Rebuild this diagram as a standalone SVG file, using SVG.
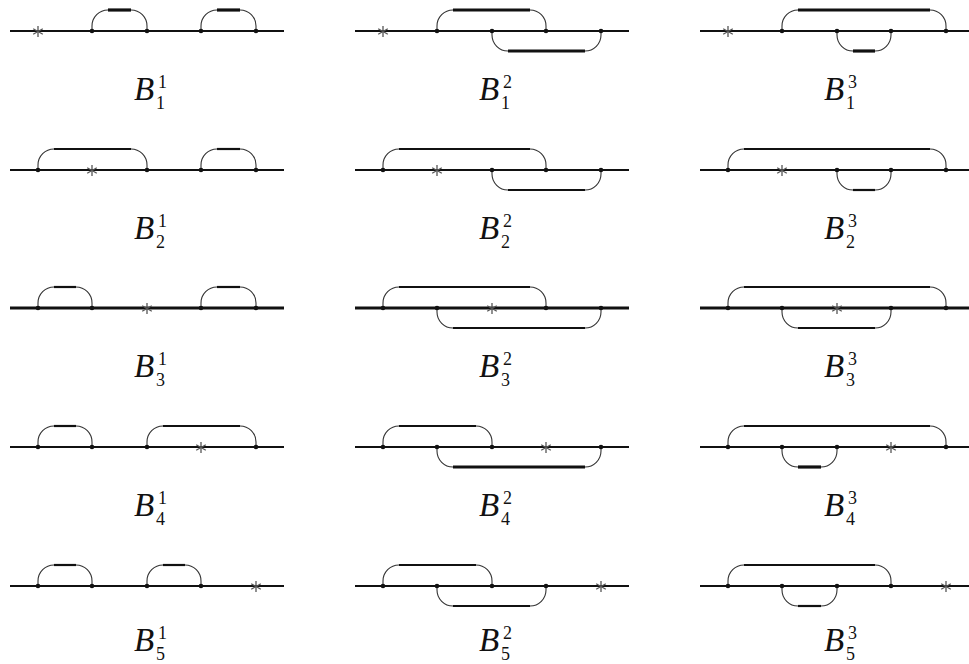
<svg xmlns="http://www.w3.org/2000/svg" xmlns:xlink="http://www.w3.org/1999/xlink" width="969" height="664" viewBox="0 0 969 664">
<style>
.base{stroke:#111;stroke-width:2.2;fill:none}
.arc{stroke:#333;stroke-width:1.1;fill:none}
.flat{stroke:#111;stroke-width:2.2;fill:none}
.thick{stroke-width:3.2}
.dot{fill:#111}
.ast{stroke:#555;stroke-width:1.3}
.B{font-family:"Liberation Serif",serif;font-style:italic;font-size:33px;fill:#111}
.idx{font-family:"Liberation Serif",serif;font-size:18px;fill:#111}
</style>
<defs>
<g id="star" class="ast"><line x1="0" y1="-5.5" x2="0" y2="5.5"/><line x1="-4.8" y1="-2.75" x2="4.8" y2="2.75"/><line x1="-4.8" y1="2.75" x2="4.8" y2="-2.75"/></g>
</defs>
<rect width="969" height="664" fill="#fff"/>

<!-- Row 1 -->
<g id="B1-1" transform="translate(0,31)">
<line class="base" x1="10" y1="0" x2="284" y2="0"/>
<g class="connectors">
<path class="arc" d="M92 0V-5A16 16 0 0 1 108 -21H131A16 16 0 0 1 147 -5V0"/><path class="flat thick" d="M108 -21H131"/>
<path class="arc" d="M201 0V-5A16 16 0 0 1 217 -21H240A16 16 0 0 1 256 -5V0"/><path class="flat thick" d="M217 -21H240"/>
</g>
<circle class="dot" cx="92" cy="0" r="2.3"/><circle class="dot" cx="147" cy="0" r="2.3"/><circle class="dot" cx="201" cy="0" r="2.3"/><circle class="dot" cx="256" cy="0" r="2.3"/>
<use xlink:href="#star" x="38" y="0.5"/>
<text class="B" x="134" y="69">B</text><text class="idx" x="158" y="57">1</text><text class="idx" x="156" y="78">1</text>
</g>
<g id="B1-2" transform="translate(345,31)">
<line class="base" x1="10" y1="0" x2="284" y2="0"/>
<g class="connectors">
<path class="arc" d="M92 0V-5A16 16 0 0 1 108 -21H185A16 16 0 0 1 201 -5V0"/><path class="flat thick" d="M108 -21H185"/>
<path class="arc" d="M147 0V4A16 16 0 0 0 163 20H240A16 16 0 0 0 256 4V0"/><path class="flat thick" d="M163 20H240"/>
</g>
<circle class="dot" cx="92" cy="0" r="2.3"/><circle class="dot" cx="147" cy="0" r="2.3"/><circle class="dot" cx="201" cy="0" r="2.3"/><circle class="dot" cx="256" cy="0" r="2.3"/>
<use xlink:href="#star" x="38" y="0.5"/>
<text class="B" x="134" y="69">B</text><text class="idx" x="158" y="57">2</text><text class="idx" x="156" y="78">1</text>
</g>
<g id="B1-3" transform="translate(690,31)">
<line class="base" x1="10" y1="0" x2="284" y2="0"/>
<g class="connectors">
<path class="arc" d="M92 0V-5A16 16 0 0 1 108 -21H240A16 16 0 0 1 256 -5V0"/><path class="flat thick" d="M108 -21H240"/>
<path class="arc" d="M147 0V4A16 16 0 0 0 163 20H185A16 16 0 0 0 201 4V0"/><path class="flat thick" d="M163 20H185"/>
</g>
<circle class="dot" cx="92" cy="0" r="2.3"/><circle class="dot" cx="147" cy="0" r="2.3"/><circle class="dot" cx="201" cy="0" r="2.3"/><circle class="dot" cx="256" cy="0" r="2.3"/>
<use xlink:href="#star" x="38" y="0.5"/>
<text class="B" x="134" y="69">B</text><text class="idx" x="158" y="57">3</text><text class="idx" x="156" y="78">1</text>
</g>

<!-- Row 2 -->
<g id="B2-1" transform="translate(0,170)">
<line class="base" x1="10" y1="0" x2="284" y2="0"/>
<g class="connectors">
<path class="arc" d="M38 0V-5A16 16 0 0 1 54 -21H131A16 16 0 0 1 147 -5V0"/><path class="flat" d="M54 -21H131"/>
<path class="arc" d="M201 0V-5A16 16 0 0 1 217 -21H240A16 16 0 0 1 256 -5V0"/><path class="flat" d="M217 -21H240"/>
</g>
<circle class="dot" cx="38" cy="0" r="2.3"/><circle class="dot" cx="147" cy="0" r="2.3"/><circle class="dot" cx="201" cy="0" r="2.3"/><circle class="dot" cx="256" cy="0" r="2.3"/>
<use xlink:href="#star" x="92" y="0.5"/>
<text class="B" x="134" y="69">B</text><text class="idx" x="158" y="57">1</text><text class="idx" x="156" y="78">2</text>
</g>
<g id="B2-2" transform="translate(345,170)">
<line class="base" x1="10" y1="0" x2="284" y2="0"/>
<g class="connectors">
<path class="arc" d="M38 0V-5A16 16 0 0 1 54 -21H185A16 16 0 0 1 201 -5V0"/><path class="flat" d="M54 -21H185"/>
<path class="arc" d="M147 0V4A16 16 0 0 0 163 20H240A16 16 0 0 0 256 4V0"/><path class="flat" d="M163 20H240"/>
</g>
<circle class="dot" cx="38" cy="0" r="2.3"/><circle class="dot" cx="147" cy="0" r="2.3"/><circle class="dot" cx="201" cy="0" r="2.3"/><circle class="dot" cx="256" cy="0" r="2.3"/>
<use xlink:href="#star" x="92" y="0.5"/>
<text class="B" x="134" y="69">B</text><text class="idx" x="158" y="57">2</text><text class="idx" x="156" y="78">2</text>
</g>
<g id="B2-3" transform="translate(690,170)">
<line class="base" x1="10" y1="0" x2="284" y2="0"/>
<g class="connectors">
<path class="arc" d="M38 0V-5A16 16 0 0 1 54 -21H240A16 16 0 0 1 256 -5V0"/><path class="flat" d="M54 -21H240"/>
<path class="arc" d="M147 0V4A16 16 0 0 0 163 20H185A16 16 0 0 0 201 4V0"/><path class="flat" d="M163 20H185"/>
</g>
<circle class="dot" cx="38" cy="0" r="2.3"/><circle class="dot" cx="147" cy="0" r="2.3"/><circle class="dot" cx="201" cy="0" r="2.3"/><circle class="dot" cx="256" cy="0" r="2.3"/>
<use xlink:href="#star" x="92" y="0.5"/>
<text class="B" x="134" y="69">B</text><text class="idx" x="158" y="57">3</text><text class="idx" x="156" y="78">2</text>
</g>

<!-- Row 3 -->
<g id="B3-1" transform="translate(0,308)">
<line class="base thick" x1="10" y1="0" x2="284" y2="0"/>
<g class="connectors">
<path class="arc" d="M38 0V-5A16 16 0 0 1 54 -21H76A16 16 0 0 1 92 -5V0"/><path class="flat" d="M54 -21H76"/>
<path class="arc" d="M201 0V-5A16 16 0 0 1 217 -21H240A16 16 0 0 1 256 -5V0"/><path class="flat" d="M217 -21H240"/>
</g>
<circle class="dot" cx="38" cy="0" r="2.3"/><circle class="dot" cx="92" cy="0" r="2.3"/><circle class="dot" cx="201" cy="0" r="2.3"/><circle class="dot" cx="256" cy="0" r="2.3"/>
<use xlink:href="#star" x="147" y="0.5"/>
<text class="B" x="134" y="69">B</text><text class="idx" x="158" y="57">1</text><text class="idx" x="156" y="78">3</text>
</g>
<g id="B3-2" transform="translate(345,308)">
<line class="base thick" x1="10" y1="0" x2="284" y2="0"/>
<g class="connectors">
<path class="arc" d="M38 0V-5A16 16 0 0 1 54 -21H185A16 16 0 0 1 201 -5V0"/><path class="flat" d="M54 -21H185"/>
<path class="arc" d="M92 0V4A16 16 0 0 0 108 20H240A16 16 0 0 0 256 4V0"/><path class="flat" d="M108 20H240"/>
</g>
<circle class="dot" cx="38" cy="0" r="2.3"/><circle class="dot" cx="92" cy="0" r="2.3"/><circle class="dot" cx="201" cy="0" r="2.3"/><circle class="dot" cx="256" cy="0" r="2.3"/>
<use xlink:href="#star" x="147" y="0.5"/>
<text class="B" x="134" y="69">B</text><text class="idx" x="158" y="57">2</text><text class="idx" x="156" y="78">3</text>
</g>
<g id="B3-3" transform="translate(690,308)">
<line class="base thick" x1="10" y1="0" x2="284" y2="0"/>
<g class="connectors">
<path class="arc" d="M38 0V-5A16 16 0 0 1 54 -21H240A16 16 0 0 1 256 -5V0"/><path class="flat" d="M54 -21H240"/>
<path class="arc" d="M92 0V4A16 16 0 0 0 108 20H185A16 16 0 0 0 201 4V0"/><path class="flat" d="M108 20H185"/>
</g>
<circle class="dot" cx="38" cy="0" r="2.3"/><circle class="dot" cx="92" cy="0" r="2.3"/><circle class="dot" cx="201" cy="0" r="2.3"/><circle class="dot" cx="256" cy="0" r="2.3"/>
<use xlink:href="#star" x="147" y="0.5"/>
<text class="B" x="134" y="69">B</text><text class="idx" x="158" y="57">3</text><text class="idx" x="156" y="78">3</text>
</g>

<!-- Row 4 -->
<g id="B4-1" transform="translate(0,447)">
<line class="base" x1="10" y1="0" x2="284" y2="0"/>
<g class="connectors">
<path class="arc" d="M38 0V-5A16 16 0 0 1 54 -21H76A16 16 0 0 1 92 -5V0"/><path class="flat" d="M54 -21H76"/>
<path class="arc" d="M147 0V-5A16 16 0 0 1 163 -21H240A16 16 0 0 1 256 -5V0"/><path class="flat" d="M163 -21H240"/>
</g>
<circle class="dot" cx="38" cy="0" r="2.3"/><circle class="dot" cx="92" cy="0" r="2.3"/><circle class="dot" cx="147" cy="0" r="2.3"/><circle class="dot" cx="256" cy="0" r="2.3"/>
<use xlink:href="#star" x="201" y="0.5"/>
<text class="B" x="134" y="69">B</text><text class="idx" x="158" y="57">1</text><text class="idx" x="156" y="78">4</text>
</g>
<g id="B4-2" transform="translate(345,447)">
<line class="base" x1="10" y1="0" x2="284" y2="0"/>
<g class="connectors">
<path class="arc" d="M38 0V-5A16 16 0 0 1 54 -21H131A16 16 0 0 1 147 -5V0"/><path class="flat" d="M54 -21H131"/>
<path class="arc" d="M92 0V4A16 16 0 0 0 108 20H240A16 16 0 0 0 256 4V0"/><path class="flat thick" d="M108 20H240"/>
</g>
<circle class="dot" cx="38" cy="0" r="2.3"/><circle class="dot" cx="92" cy="0" r="2.3"/><circle class="dot" cx="147" cy="0" r="2.3"/><circle class="dot" cx="256" cy="0" r="2.3"/>
<use xlink:href="#star" x="201" y="0.5"/>
<text class="B" x="134" y="69">B</text><text class="idx" x="158" y="57">2</text><text class="idx" x="156" y="78">4</text>
</g>
<g id="B4-3" transform="translate(690,447)">
<line class="base" x1="10" y1="0" x2="284" y2="0"/>
<g class="connectors">
<path class="arc" d="M38 0V-5A16 16 0 0 1 54 -21H240A16 16 0 0 1 256 -5V0"/><path class="flat" d="M54 -21H240"/>
<path class="arc" d="M92 0V4A16 16 0 0 0 108 20H131A16 16 0 0 0 147 4V0"/><path class="flat thick" d="M108 20H131"/>
</g>
<circle class="dot" cx="38" cy="0" r="2.3"/><circle class="dot" cx="92" cy="0" r="2.3"/><circle class="dot" cx="147" cy="0" r="2.3"/><circle class="dot" cx="256" cy="0" r="2.3"/>
<use xlink:href="#star" x="201" y="0.5"/>
<text class="B" x="134" y="69">B</text><text class="idx" x="158" y="57">3</text><text class="idx" x="156" y="78">4</text>
</g>

<!-- Row 5 -->
<g id="B5-1" transform="translate(0,586)">
<line class="base" x1="10" y1="0" x2="284" y2="0"/>
<g class="connectors">
<path class="arc" d="M38 0V-5A16 16 0 0 1 54 -21H76A16 16 0 0 1 92 -5V0"/><path class="flat" d="M54 -21H76"/>
<path class="arc" d="M147 0V-5A16 16 0 0 1 163 -21H185A16 16 0 0 1 201 -5V0"/><path class="flat" d="M163 -21H185"/>
</g>
<circle class="dot" cx="38" cy="0" r="2.3"/><circle class="dot" cx="92" cy="0" r="2.3"/><circle class="dot" cx="147" cy="0" r="2.3"/><circle class="dot" cx="201" cy="0" r="2.3"/>
<use xlink:href="#star" x="256" y="0.5"/>
<text class="B" x="134" y="65">B</text><text class="idx" x="158" y="53">1</text><text class="idx" x="156" y="74">5</text>
</g>
<g id="B5-2" transform="translate(345,586)">
<line class="base" x1="10" y1="0" x2="284" y2="0"/>
<g class="connectors">
<path class="arc" d="M38 0V-5A16 16 0 0 1 54 -21H131A16 16 0 0 1 147 -5V0"/><path class="flat" d="M54 -21H131"/>
<path class="arc" d="M92 0V4A16 16 0 0 0 108 20H185A16 16 0 0 0 201 4V0"/><path class="flat" d="M108 20H185"/>
</g>
<circle class="dot" cx="38" cy="0" r="2.3"/><circle class="dot" cx="92" cy="0" r="2.3"/><circle class="dot" cx="147" cy="0" r="2.3"/><circle class="dot" cx="201" cy="0" r="2.3"/>
<use xlink:href="#star" x="256" y="0.5"/>
<text class="B" x="134" y="65">B</text><text class="idx" x="158" y="53">2</text><text class="idx" x="156" y="74">5</text>
</g>
<g id="B5-3" transform="translate(690,586)">
<line class="base" x1="10" y1="0" x2="284" y2="0"/>
<g class="connectors">
<path class="arc" d="M38 0V-5A16 16 0 0 1 54 -21H185A16 16 0 0 1 201 -5V0"/><path class="flat" d="M54 -21H185"/>
<path class="arc" d="M92 0V4A16 16 0 0 0 108 20H131A16 16 0 0 0 147 4V0"/><path class="flat" d="M108 20H131"/>
</g>
<circle class="dot" cx="38" cy="0" r="2.3"/><circle class="dot" cx="92" cy="0" r="2.3"/><circle class="dot" cx="147" cy="0" r="2.3"/><circle class="dot" cx="201" cy="0" r="2.3"/>
<use xlink:href="#star" x="256" y="0.5"/>
<text class="B" x="134" y="65">B</text><text class="idx" x="158" y="53">3</text><text class="idx" x="156" y="74">5</text>
</g>
</svg>
